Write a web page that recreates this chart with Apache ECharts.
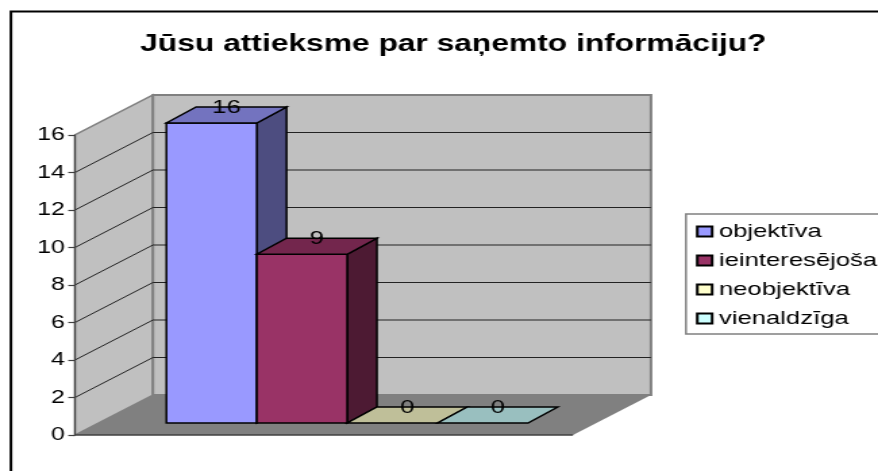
<!DOCTYPE html>
<html><head><meta charset="utf-8">
<style>html,body{margin:0;padding:0;background:#fff;overflow:hidden;width:878px;height:471px}
#c{width:650px;height:471px;transform:scaleX(1.3508);transform-origin:0 0}</style>
<script src="https://cdn.jsdelivr.net/npm/echarts@6/dist/echarts.min.js"></script></head>
<body><div id="c"></div>
<script>
const chartTitle = "Jūsu attieksme par saņemto informāciju?";
const seriesNames = ["objektīva", "ieinteresējoša", "neobjektīva", "vienaldzīga"];
const seriesValues = [16, 9, 0, 0];
const yMax = 16, yStep = 2;
const gridTicks = [2, 4, 6, 8, 10, 12, 14, 16];
const frontColors = ["#9999FF", "#993366", "#FFFFCC", "#CCFFFF"];
const topColors = ["#7373BF", "#73264D", "#BFBF99", "#99BFBF"];
const sideColors = ["#4D4D80", "#4D1A33", "#808066", "#668080"];

const FONT = '"Liberation Sans", Arial, sans-serif';
const wallDX = 57.7, wallDY = -40;          // chart depth
const barOffDX = 17, barOffDY = -12;        // bar position inside depth
const barDX = 22, barDY = -16;              // bar depth
const marginR = 0.1375, barR = 0.1815;      // fractions of the category band

function wallsItem(params, api) {
  const o = api.coord([0, 0]), t = api.coord([0, yMax]);
  const band = api.size([1, 0])[0];
  const L = o[0] - band / 2, R = o[0] + band / 2, B = o[1], T = t[1];
  const kids = [];
  const poly = (pts, fill, stroke, lw) => ({type: 'polygon', shape: {points: pts},
    style: {fill, stroke: stroke || null, lineWidth: lw || 0}});
  kids.push(poly([[L,B],[L+wallDX,B+wallDY],[L+wallDX,T+wallDY],[L,T]], '#C0C0C0', '#808080', 1.5));
  kids.push(poly([[L+wallDX,B+wallDY],[R+wallDX,B+wallDY],[R+wallDX,T+wallDY],[L+wallDX,T+wallDY]], '#C0C0C0', '#808080', 2));
  kids.push(poly([[L,B],[L+wallDX,B+wallDY],[R+wallDX,B+wallDY],[R,B]], '#808080', null, 0));
  kids.push({type:'line', shape:{x1:L,y1:B,x2:R,y2:B}, style:{stroke:'#404040',lineWidth:1.5}});
  gridTicks.forEach(v => {
    const y = api.coord([0, v])[1];
    if (v === yMax) return;
    kids.push({type:'polyline', shape:{points:[[L,y],[L+wallDX,y+wallDY],[R+wallDX,y+wallDY]]},
      style:{fill:null, stroke:'#222222', lineWidth:1}});
  });
  return {type:'group', children:kids};
}

function barItem(i) {
  return function (params, api) {
    const v = api.value(1);
    const o = api.coord([0, 0]), top = api.coord([0, v]);
    const band = api.size([1, 0])[0];
    const w = band * barR;
    const x0 = o[0] - band / 2 + barOffDX + band * marginR + i * w, x1 = x0 + w;
    const yb = o[1] + barOffDY, yt = top[1] + barOffDY;
    const st = (fill) => ({fill, stroke:'#000', lineWidth:1.5, lineJoin:'miter'});
    const kids = [];
    if (v > 0) {
      kids.push({type:'polygon', shape:{points:[[x1,yb],[x1+barDX,yb+barDY],[x1+barDX,yt+barDY],[x1,yt]]}, style:st(sideColors[i])});
      kids.push({type:'polygon', shape:{points:[[x0,yb],[x1,yb],[x1,yt],[x0,yt]]}, style:st(frontColors[i])});
    }
    kids.push({type:'polygon', shape:{points:[[x0,yt],[x1,yt],[x1+barDX,yt+barDY],[x0+barDX,yt+barDY]]}, style:st(topColors[i])});
    kids.push({type:'text', z2:50, style:{x:x0+w/2+barDX/2, y:yt+barDY/2-7.5, text:String(v), fill:'#000',
      font:'19px '+FONT, textAlign:'center', textVerticalAlign:'middle'}});
    return {type:'group', children:kids};
  };
}

const chart = echarts.init(document.getElementById('c'), null, {renderer:'canvas', width:650, height:471});
chart.setOption({
  animation:false,
  backgroundColor:'#fff',
  title:{text:chartTitle, left:330.6, top:28, textAlign:'center',
    textStyle:{fontFamily:FONT, fontSize:23.5, fontWeight:'bold', color:'#000'}},
  legend:{show:true, orient:'vertical', left:507.8, top:214, data:seriesNames, icon:'rect',
    itemWidth:11, itemHeight:10, itemGap:10, padding:[8,6,6,7.4],
    borderColor:'#808080', borderWidth:1.5, backgroundColor:'#fff',
    textStyle:{fontFamily:FONT, fontSize:19, color:'#000'}},
  graphic:[{type:'polyline', silent:true, z:-1, shape:{points:[[8.1,480],[8.1,11.5],[660,11.5]]},
    style:{fill:null, stroke:'#000', lineWidth:2}}],
  grid:{left:55.5, width:368.7, top:135, bottom:36, containLabel:false},
  xAxis:{type:'category', data:[''], show:false},
  yAxis:{type:'value', min:0, max:yMax, interval:yStep, z:5,
    axisLine:{show:true, lineStyle:{color:'#404040', width:1.2}},
    axisTick:{show:true, length:5, lineStyle:{color:'#404040', width:1.2}},
    axisLabel:{fontFamily:FONT, fontSize:18.5, color:'#000', margin:7.5, padding:[2,0,0,0]},
    splitLine:{show:false}},
  series:[
    {type:'custom', name:'__walls', renderItem:wallsItem, data:[[0, 0]], silent:true, clip:false, z:1, tooltip:{show:false}},
    ...seriesNames.map((n,i)=>({type:'custom', name:n, renderItem:barItem(i), data:[[0, seriesValues[i]]],
      silent:true, clip:false, z:2+i, itemStyle:{color:frontColors[i], borderColor:'#000', borderWidth:1.2},
      encode:{x:0,y:1}}))
  ]
});
</script></body></html>
